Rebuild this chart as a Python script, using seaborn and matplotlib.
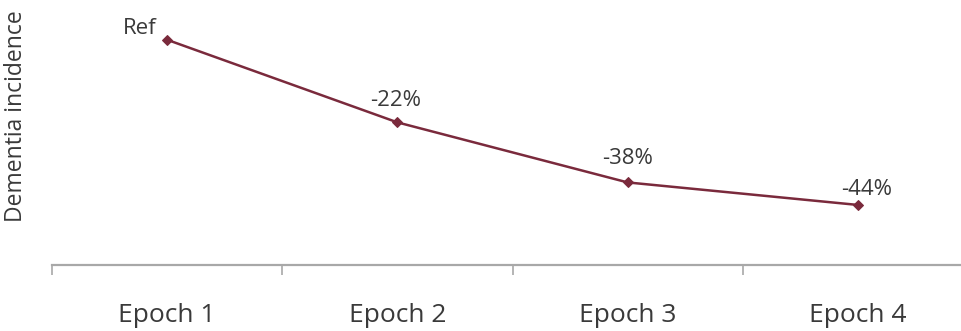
import matplotlib
matplotlib.use("Agg")
import matplotlib.pyplot as plt
import seaborn as sns
import pandas as pd

categories = ["Epoch 1", "Epoch 2", "Epoch 3", "Epoch 4"]
values = [100, 78, 62, 56]
labels = ["Ref", "-22%", "-38%", "-44%"]

sns.set_theme(style="white")
plt.rcParams['font.family'] = ['Open Sans', 'DejaVu Sans']

df = pd.DataFrame({"epoch": categories, "incidence": values})

fig = plt.figure(figsize=(9.61, 3.31), dpi=100)
W, H = 961, 331
left_px, right_px, top_px, bottom_px = 52, 973, 0, 265
ax = fig.add_axes([left_px / W, (H - bottom_px) / H, (right_px - left_px) / W, (bottom_px - top_px) / H])

line_color = "#7a2a3c"
sns.lineplot(data=df, x="epoch", y="incidence", ax=ax, color=line_color, linewidth=1.8,
             marker="D", markersize=5, markeredgecolor=line_color, sort=False)

ax.set_xlim(-0.5, 3.5)
ax.set_ylim(40, 110.6)

offsets = [(-27, 6), (-2, 16), (0, 18), (9, 10)]
for i, (v, lab) in enumerate(zip(values, labels)):
    ax.annotate(lab, (i, v), xytext=offsets[i], textcoords="offset pixels",
                ha="center", va="baseline", fontsize=16, color="#3a3a3a")

for s in ["top", "right", "left"]:
    ax.spines[s].set_visible(False)
ax.spines["bottom"].set_color("#a8a8a8")
ax.spines["bottom"].set_linewidth(1.6)

ax.set_xticks([-0.5, 0.5, 1.5, 2.5, 3.5])
ax.set_xticklabels([])
ax.tick_params(axis="x", which="major", length=7, width=1.2, color="#a8a8a8", direction="out", bottom=True)
ax.set_xticks([0, 1, 2, 3], minor=True)
ax.set_xticklabels(categories, minor=True, fontsize=19, color="#3a3a3a")
ax.tick_params(axis="x", which="minor", length=0, pad=27)
ax.set_yticks([])
ax.set_xlabel("")
ax.set_ylabel("Dementia incidence", fontsize=16.5, color="#3a3a3a")
ax.yaxis.set_label_coords(-(left_px - 16) / (right_px - left_px), 1 - 116 / (bottom_px - top_px))
ax.yaxis.label.set_va("center")

fig.savefig("out.png", dpi=100)
